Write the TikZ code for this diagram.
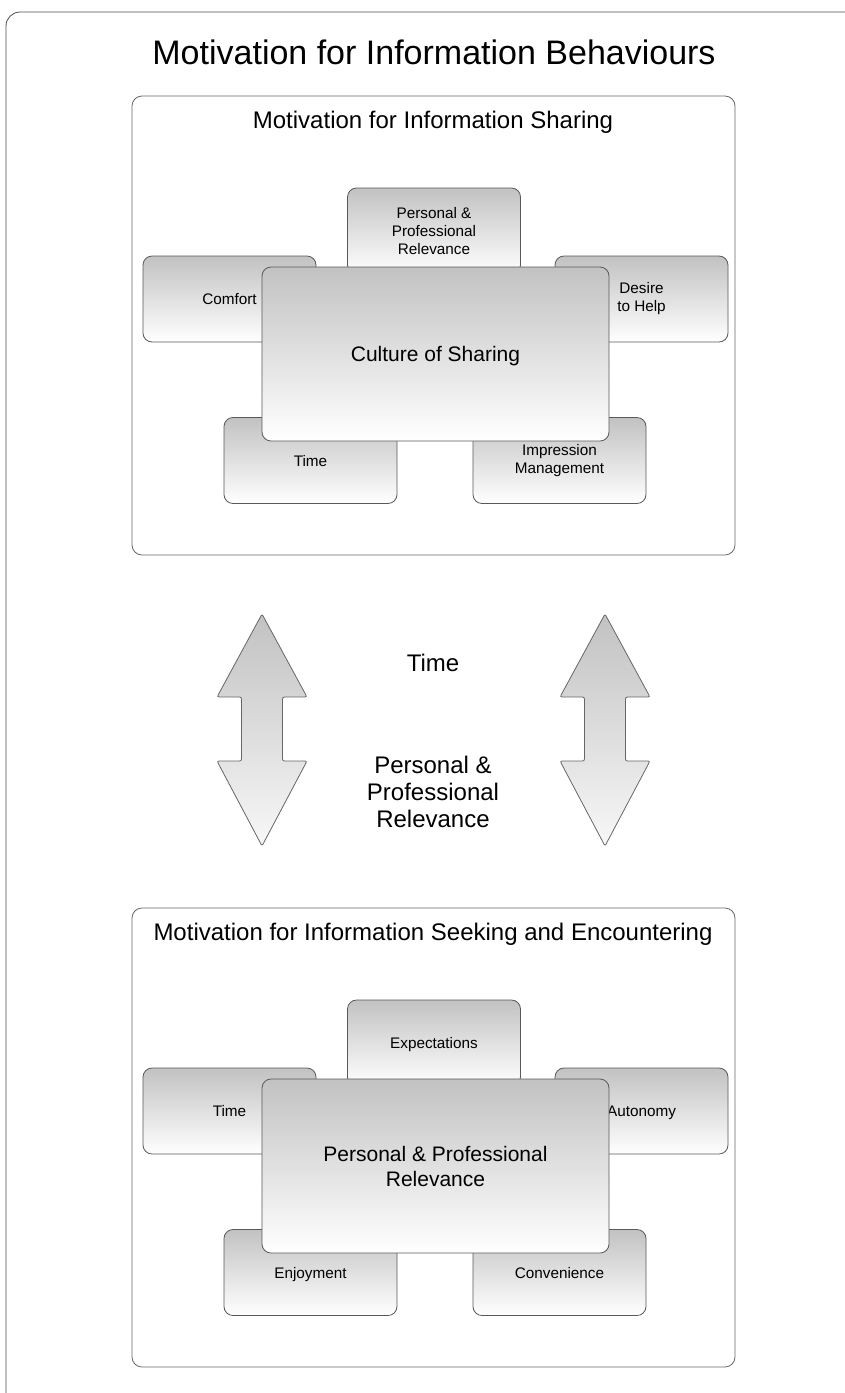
\documentclass[tikz,border=0pt]{standalone}
\usepackage{fontspec}
\setmainfont{Liberation Sans}
\usetikzlibrary{calc}
\tikzset{sm/.style={font=\fontsize{15.3}{18}\selectfont, align=center}}
\tikzset{md/.style={font=\fontsize{21}{25}\selectfont, align=center}}
\tikzset{hd/.style={font=\fontsize{24}{27}\selectfont, align=center}}
\tikzset{lg/.style={font=\fontsize{34}{38}\selectfont}}
\tikzset{one/.style={text height=11pt, text depth=0pt}}
\tikzset{bx/.style={draw=black!65, line width=0.8pt, rounded corners=9pt, top color=black!24, bottom color=white, minimum width=173pt, minimum height=86pt, inner sep=0pt, sm}}
\tikzset{cb/.style={bx, minimum width=347pt, minimum height=174pt, md}}
\tikzset{pnl/.style={draw=black!60, line width=0.8pt, rounded corners=10pt, minimum width=603pt, minimum height=459pt, fill=white}}
\tikzset{arw/.style={draw=black!60, line width=0.8pt, rounded corners=2pt, top color=black!24, bottom color=white!97!black}}

\begin{document}
\begin{tikzpicture}[x=1pt, y=-1pt]
  \useasboundingbox (0,0) rectangle (845,1393);
  \draw[black!70, line width=0.8pt, rounded corners=14pt] (6,12) rectangle (880,1430);
  \node[lg] (title) at (434,52) {Motivation for Information Behaviours};

  % sharing
  \node[pnl] (share) at (433.5,325.5) {};
  \node[hd] (shareT) at (433,122) {Motivation for Information Sharing};
  \node[bx] (sPPR) at (434,231) {Personal \&\\Professional\\Relevance};
  \node[bx, one] (sComf) at (229.5,299) {Comfort};
  \node[bx] (sHelp) at (641.5,299) {Desire\\to Help};
  \node[bx, one] (sTime) at (310.5,460.5) {Time};
  \node[bx] (sImpr) at (559.5,460.5) {Impression\\Management};
  \node[cb, text height=15pt, text depth=0pt] (sCult) at (435.5,354) {Culture of Sharing};

  % between
  \foreach \cx in {262,605} {
    \shade[arw] (\cx,614) -- ({\cx+45},697) -- ({\cx+20.5},697) -- ({\cx+20.5},761)
      -- ({\cx+45},761) -- (\cx,846) -- ({\cx-45},761) -- ({\cx-20.5},761)
      -- ({\cx-20.5},697) -- ({\cx-45},697) -- cycle;
  }
  \node[hd] (mTime) at (433,663) {Time};
  \node[hd] (mPPR) at (433,792) {Personal \&\\Professional\\Relevance};

  % seeking
  \node[pnl] (seek) at (433.5,1137.5) {};
  \node[hd] (seekT) at (433,934) {Motivation for Information Seeking and Encountering};
  \node[bx, one] (kExp) at (434,1043) {Expectations};
  \node[bx, one] (kTime) at (229.5,1111) {Time};
  \node[bx, one] (kAuto) at (641.5,1111) {Autonomy};
  \node[bx, one] (kEnj) at (310.5,1272.5) {Enjoyment};
  \node[bx, one] (kConv) at (559.5,1272.5) {Convenience};
  \node[cb] (kPPR) at (435.5,1166) {Personal \& Professional\\Relevance};
\end{tikzpicture}
\end{document}
